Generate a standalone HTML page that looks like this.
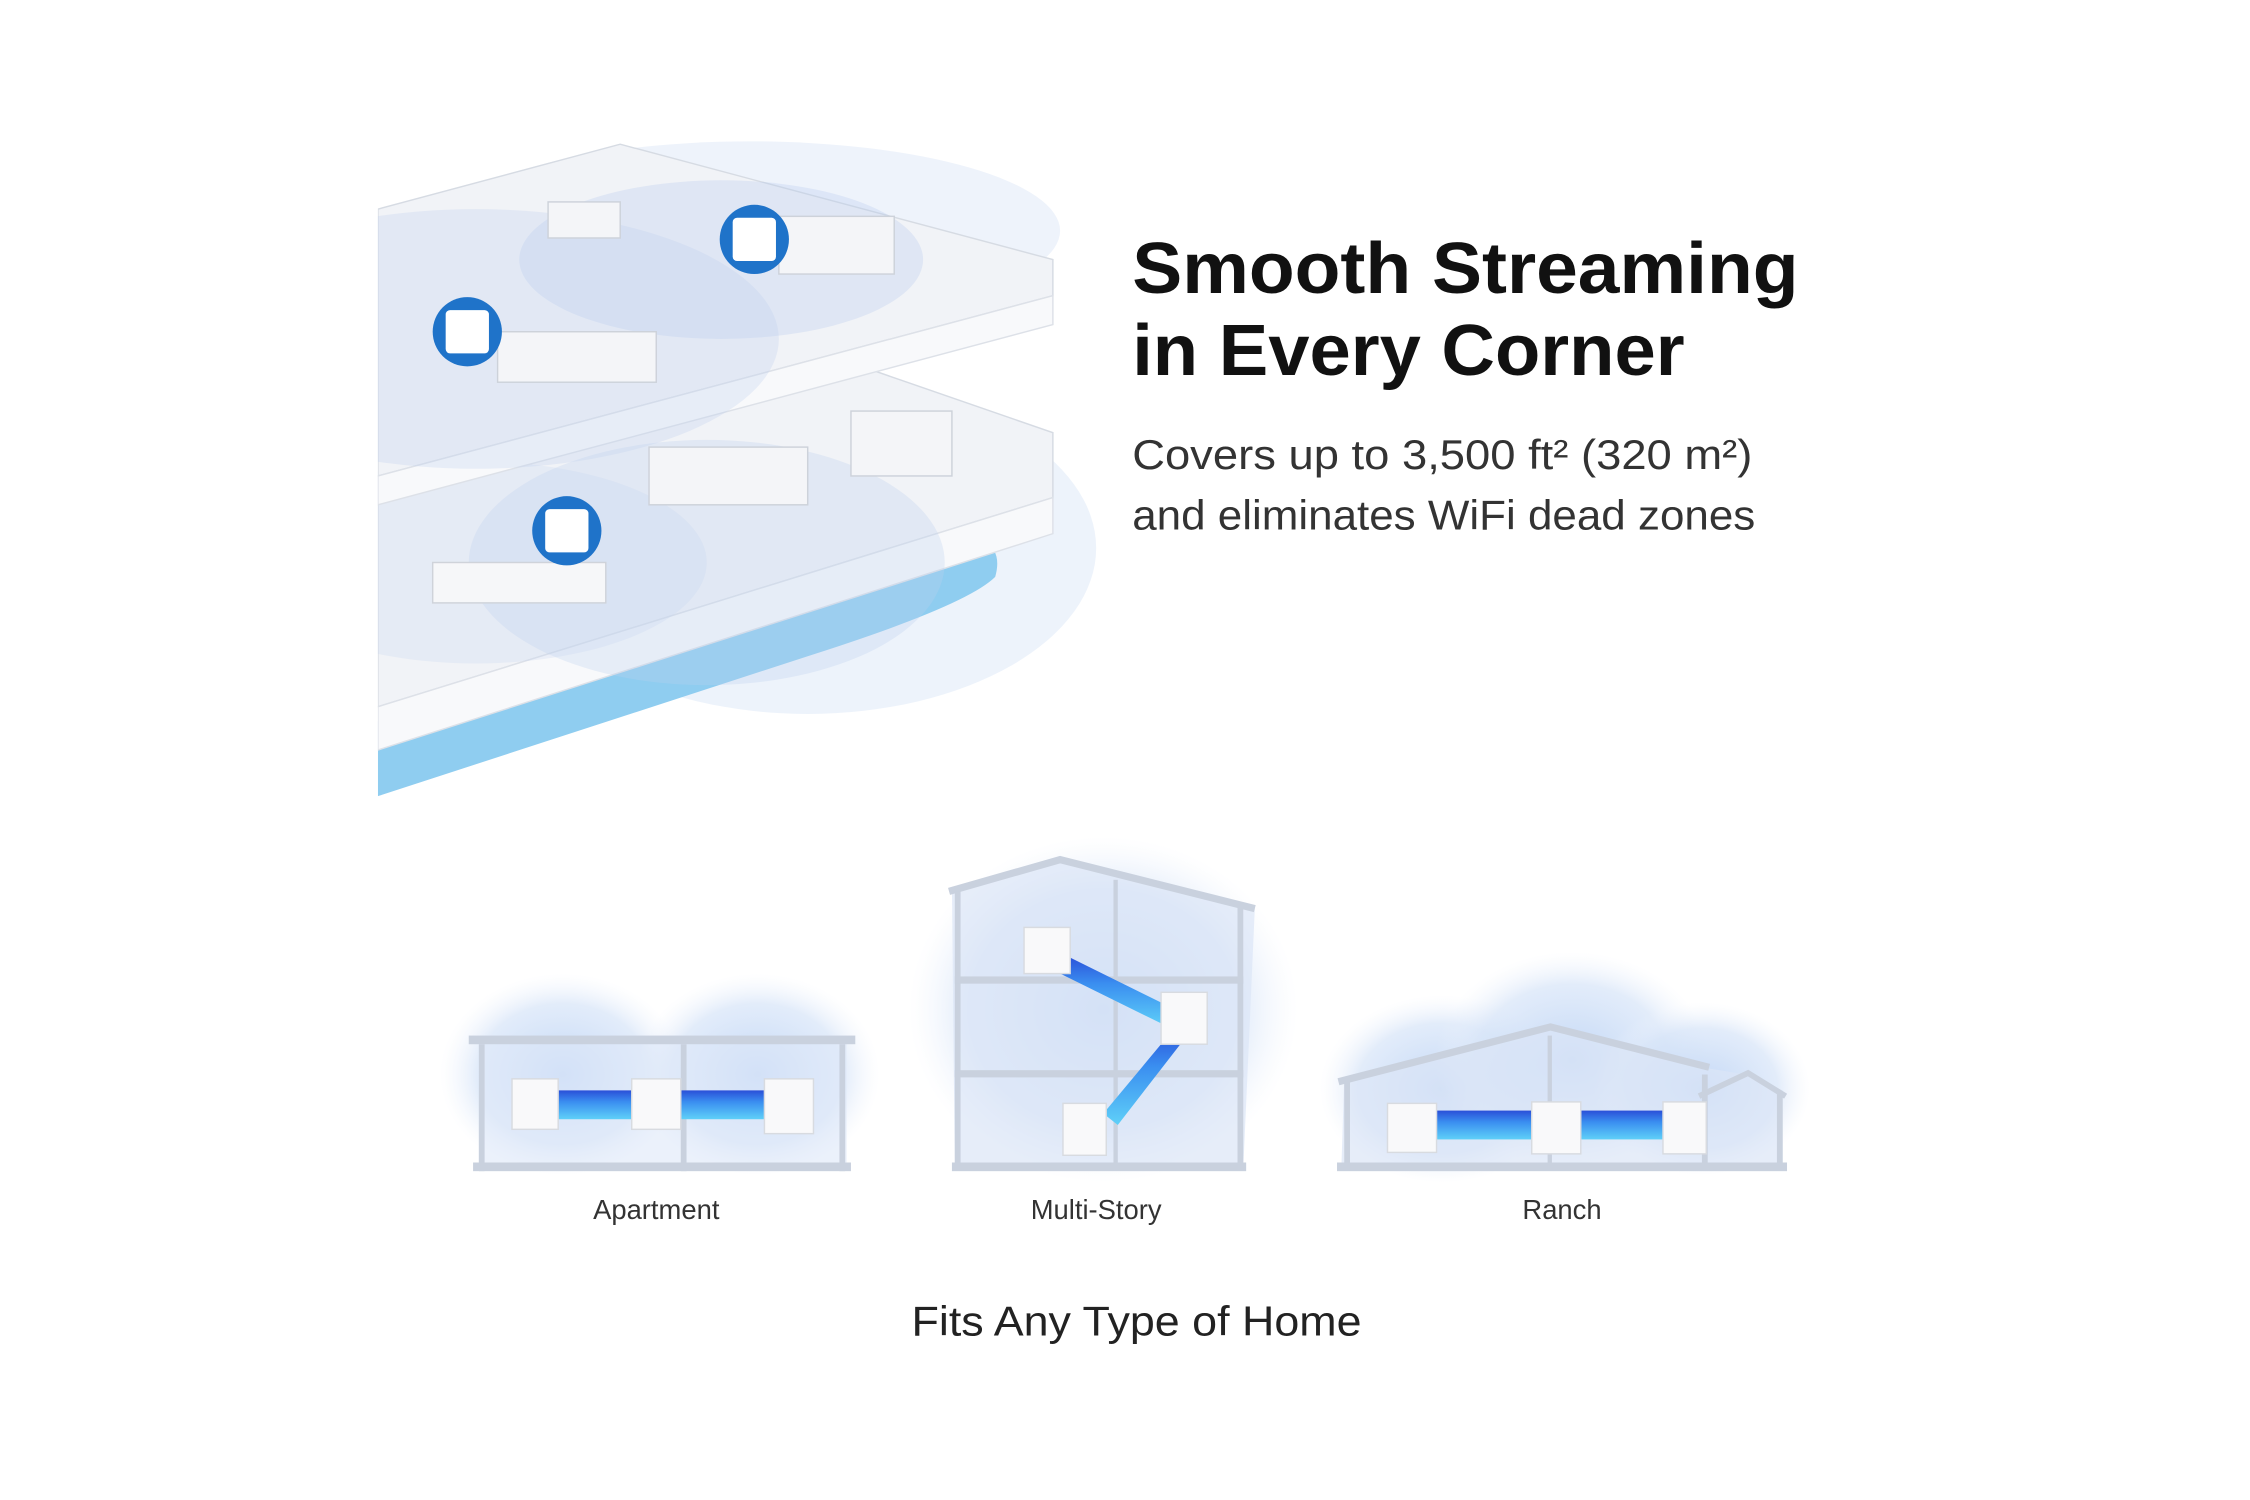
<!DOCTYPE html>
<html><head><meta charset="utf-8"><style>
html,body{margin:0;padding:0;background:#fff;}
svg{display:block;}
</style></head><body>
<svg width="2250" height="1500" viewBox="0 0 1560 1040" preserveAspectRatio="none" xmlns="http://www.w3.org/2000/svg">
<defs>
<radialGradient id="glow" cx="50%" cy="50%" r="50%">
<stop offset="0" stop-color="#bcd3f5" stop-opacity="0.9"/>
<stop offset="0.7" stop-color="#d6e4f8" stop-opacity="0.7"/>
<stop offset="1" stop-color="#eef3fc" stop-opacity="0"/>
</radialGradient>
<linearGradient id="link" x1="0" y1="0" x2="0" y2="1">
<stop offset="0" stop-color="#2a4fd8"/><stop offset="0.4" stop-color="#3a8ef0"/><stop offset="1" stop-color="#5fd0f8"/>
</linearGradient>
<clipPath id="fc"><rect x="262" y="0" width="600" height="600"/></clipPath>
</defs>
<rect width="1560" height="1040" fill="#fff"/>

<g clip-path="url(#fc)">
<ellipse cx="520" cy="160" rx="215" ry="62" fill="#e3ebf8" opacity="0.6"/>
<ellipse cx="560" cy="380" rx="200" ry="115" fill="#e6eef9" opacity="0.7"/>
<path d="M262,545 L262,500 L640,370 Q700,365 690,400 Q670,420 560,455 L262,552 Z" fill="#8fcdf0"/>
<path d="M262,330 L600,255 L730,300 L730,345 L262,490 Z" fill="#f1f3f7" stroke="#d6dbe3"/>
<path d="M262,490 L730,345 L730,370 L262,520 Z" fill="#f8f9fb" stroke="#dde1e8"/>
<ellipse cx="490" cy="390" rx="165" ry="85" fill="#bdd0f0" opacity="0.3"/>
<ellipse cx="330" cy="390" rx="160" ry="70" fill="#c3d4f0" opacity="0.25"/>
<rect x="450" y="310" width="110" height="40" fill="#f4f5f8" stroke="#cdd2da"/>
<rect x="590" y="285" width="70" height="45" fill="#f4f5f8" stroke="#cdd2da"/>
<rect x="300" y="390" width="120" height="28" fill="#f6f7f9" stroke="#cfd3da"/>
<path d="M262,145 L430,100 L730,180 L730,205 L262,330 Z" fill="#f1f3f7" stroke="#d6dbe3"/>
<path d="M262,330 L730,205 L730,225 L262,350 Z" fill="#f8f9fb" stroke="#dde1e8"/>
<ellipse cx="500" cy="180" rx="140" ry="55" fill="#b6cbef" opacity="0.3"/>
<ellipse cx="330" cy="235" rx="210" ry="90" fill="#bfd1f0" opacity="0.3"/>
<rect x="345" y="230" width="110" height="35" fill="#f4f5f8" stroke="#cdd2da"/>
<rect x="380" y="140" width="50" height="25" fill="#f4f5f8" stroke="#cdd2da"/>
<rect x="540" y="150" width="80" height="40" fill="#f4f5f8" stroke="#cdd2da"/>
<circle cx="523" cy="166" r="24" fill="#1f73c9"/>
<rect x="508" y="151" width="30" height="30" rx="3" fill="#fff"/>
<circle cx="324" cy="230" r="24" fill="#1f73c9"/>
<rect x="309" y="215" width="30" height="30" rx="3" fill="#fff"/>
<circle cx="393" cy="368" r="24" fill="#1f73c9"/>
<rect x="378" y="353" width="30" height="30" rx="3" fill="#fff"/>
</g>

<text x="785" y="203" font-family="Liberation Sans, sans-serif" font-weight="bold" font-size="50" fill="#111" textLength="462" lengthAdjust="spacingAndGlyphs">Smooth Streaming</text>
<text x="785" y="260" font-family="Liberation Sans, sans-serif" font-weight="bold" font-size="50" fill="#111" textLength="383" lengthAdjust="spacingAndGlyphs">in Every Corner</text>
<text x="785" y="325" font-family="Liberation Sans, sans-serif" font-size="29" fill="#333" textLength="430" lengthAdjust="spacingAndGlyphs">Covers up to 3,500 ft² (320 m²)</text>
<text x="785" y="367" font-family="Liberation Sans, sans-serif" font-size="29" fill="#333" textLength="432" lengthAdjust="spacingAndGlyphs">and eliminates WiFi dead zones</text>

<g>
<ellipse cx="390" cy="745" rx="85" ry="70" fill="url(#glow)"/>
<ellipse cx="525" cy="745" rx="85" ry="70" fill="url(#glow)"/>
<rect x="332" y="722" width="255" height="88" fill="#dde8f8" opacity="0.6"/>
<rect x="325" y="718" width="268" height="6" fill="#c9d1de"/>
<rect x="332" y="724" width="4" height="88" fill="#c9d1de"/>
<rect x="582" y="724" width="4" height="88" fill="#c9d1de"/>
<rect x="472" y="724" width="4" height="88" fill="#c9d1de"/>
<rect x="328" y="806" width="262" height="6" fill="#c9d1de"/>
<rect x="385" y="756" width="55" height="20" fill="url(#link)"/>
<rect x="470" y="756" width="65" height="20" fill="url(#link)"/>
<rect x="355" y="748" width="32" height="35" fill="#f9f9fa" stroke="#d8dbe0"/>
<rect x="438" y="748" width="34" height="35" fill="#f9f9fa" stroke="#d8dbe0"/>
<rect x="530" y="748" width="34" height="38" fill="#f9f9fa" stroke="#d8dbe0"/>
</g>
<text x="455" y="845" text-anchor="middle" font-family="Liberation Sans, sans-serif" font-size="19" fill="#333">Apartment</text>

<g>
<ellipse cx="765" cy="700" rx="135" ry="120" fill="url(#glow)"/>
<path d="M660,615 L735,595 L870,630 L862,810 L662,810 Z" fill="#dbe6f7" opacity="0.7"/>
<path d="M658,618 L735,596 L870,630" fill="none" stroke="#c9d1de" stroke-width="5"/>
<rect x="662" y="618" width="4" height="192" fill="#c9d1de"/>
<rect x="858" y="628" width="4" height="182" fill="#c9d1de"/>
<rect x="772" y="610" width="3" height="198" fill="#c9d1de"/>
<rect x="662" y="677" width="200" height="5" fill="#c9d1de"/>
<rect x="662" y="742" width="200" height="5" fill="#c9d1de"/>
<rect x="660" y="806" width="204" height="6" fill="#c9d1de"/>
<path d="M738,662 L815,700 L810,712 L733,674 Z" fill="url(#link)"/>
<path d="M815,712 L823,718 L775,780 L765,772 Z" fill="url(#link)"/>
<rect x="710" y="643" width="32" height="32" fill="#f9f9fa" stroke="#d8dbe0"/>
<rect x="805" y="688" width="32" height="36" fill="#f9f9fa" stroke="#d8dbe0"/>
<rect x="737" y="765" width="30" height="36" fill="#f9f9fa" stroke="#d8dbe0"/>
</g>
<text x="760" y="845" text-anchor="middle" font-family="Liberation Sans, sans-serif" font-size="19" fill="#333">Multi-Story</text>

<g>
<ellipse cx="1000" cy="755" rx="85" ry="65" fill="url(#glow)"/>
<ellipse cx="1090" cy="735" rx="95" ry="75" fill="url(#glow)"/>
<ellipse cx="1180" cy="755" rx="75" ry="60" fill="url(#glow)"/>
<path d="M932,748 L1075,712 L1180,740 L1210,745 L1236,756 L1236,810 L930,810 Z" fill="#dbe6f7" opacity="0.7"/>
<path d="M928,750 L1075,712 L1185,740" fill="none" stroke="#c9d1de" stroke-width="5"/>
<path d="M1178,760 L1212,744 L1238,760" fill="none" stroke="#c9d1de" stroke-width="4"/>
<rect x="932" y="750" width="4" height="60" fill="#c9d1de"/>
<rect x="1232" y="758" width="4" height="52" fill="#c9d1de"/>
<rect x="1180" y="745" width="4" height="65" fill="#c9d1de"/>
<rect x="1073" y="718" width="3" height="90" fill="#c9d1de"/>
<rect x="927" y="806" width="312" height="6" fill="#c9d1de"/>
<rect x="995" y="770" width="70" height="20" fill="url(#link)"/>
<rect x="1095" y="770" width="60" height="20" fill="url(#link)"/>
<rect x="962" y="765" width="34" height="34" fill="#f9f9fa" stroke="#d8dbe0"/>
<rect x="1062" y="764" width="34" height="36" fill="#f9f9fa" stroke="#d8dbe0"/>
<rect x="1153" y="764" width="30" height="36" fill="#f9f9fa" stroke="#d8dbe0"/>
</g>
<text x="1083" y="845" text-anchor="middle" font-family="Liberation Sans, sans-serif" font-size="19" fill="#333">Ranch</text>

<text x="788" y="926" text-anchor="middle" font-family="Liberation Sans, sans-serif" font-size="29" fill="#222" textLength="312" lengthAdjust="spacingAndGlyphs">Fits Any Type of Home</text>
</svg>
</body></html>
